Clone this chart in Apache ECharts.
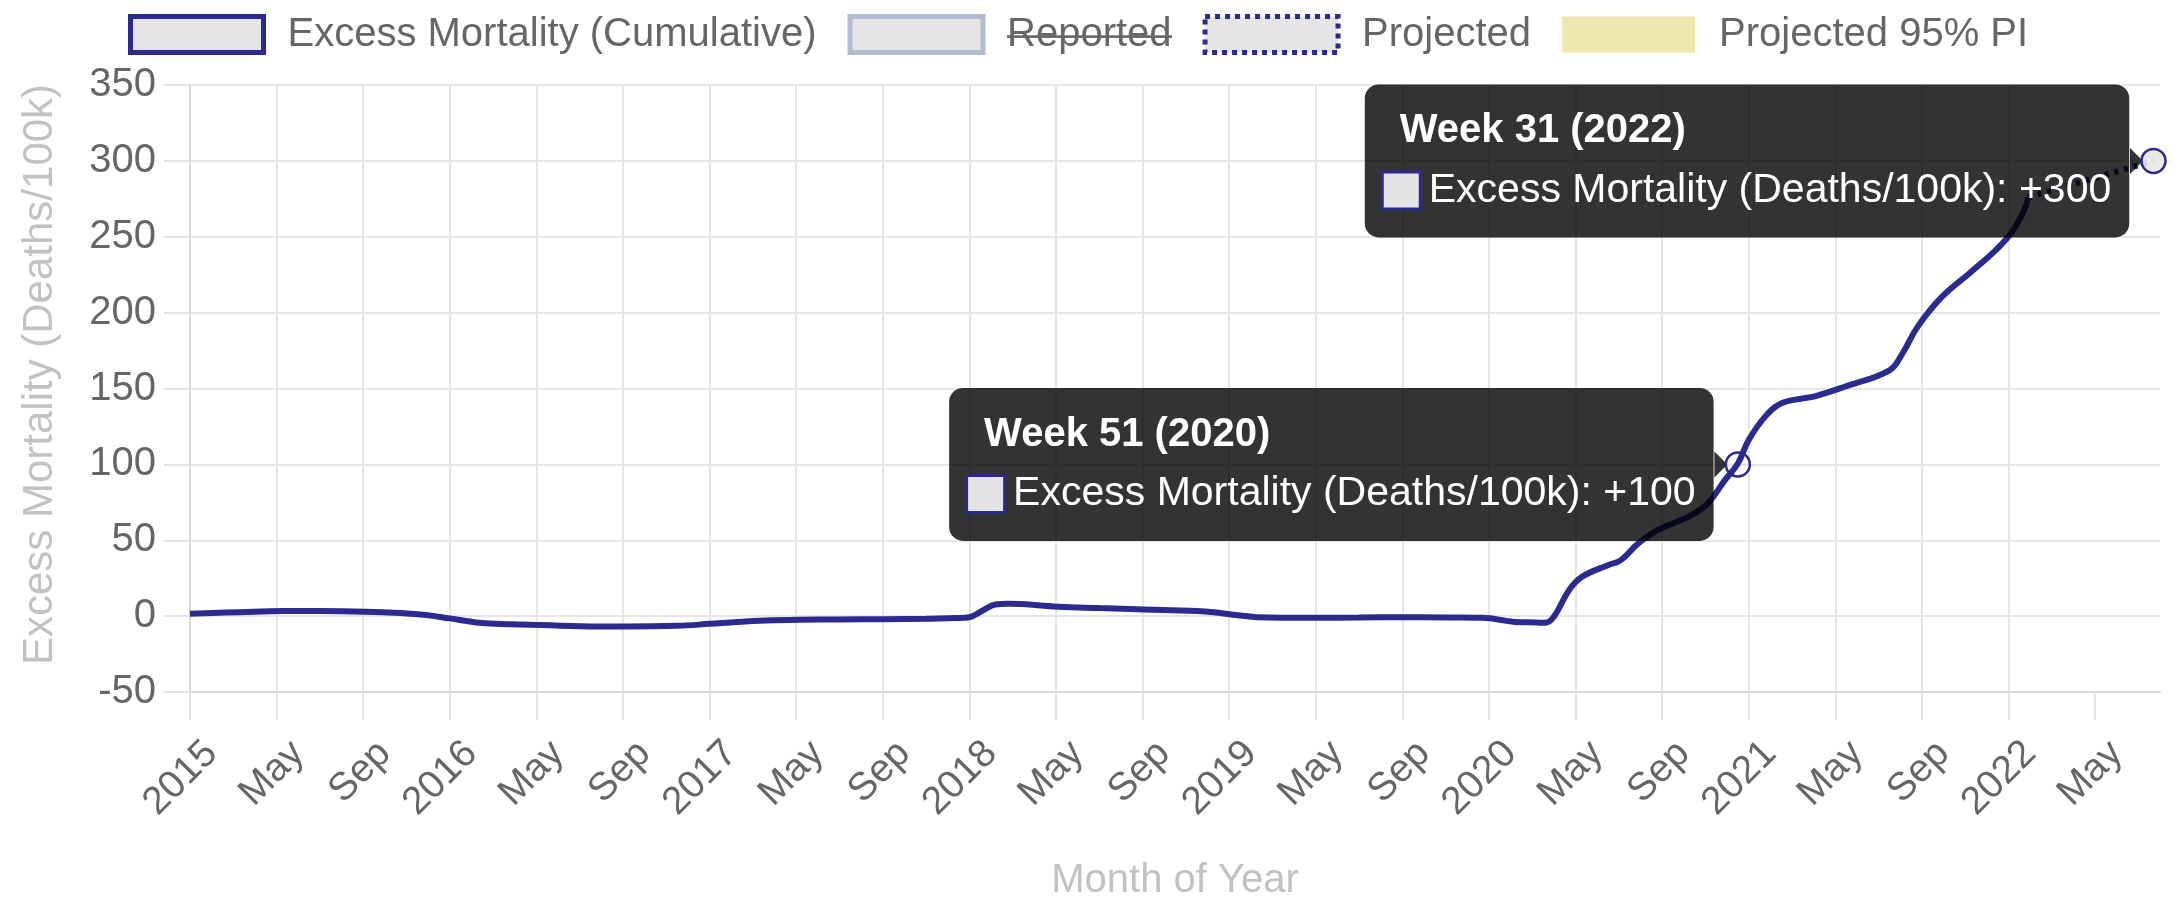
<!DOCTYPE html>
<html>
<head>
<meta charset="utf-8">
<title>Excess Mortality (Cumulative)</title>
<script src="https://cdn.jsdelivr.net/npm/echarts@6/dist/echarts.min.js"></script>
<style>
  html, body { margin: 0; padding: 0; background: #fff; }
  #chart { width: 2178px; height: 902px; }
</style>
</head>
<body>
<div id="chart"></div>
<script>
// x = months since Jan 2015, y = cumulative excess deaths per 100k
var monthsSince2015 = [0, 1, 2.3, 4.3, 6, 8.1, 9.7, 10.9, 12, 13.4, 14.8, 16.2, 18.8, 20, 22.5, 24,
  25.3, 26.6, 28.2, 30, 32.1, 34, 35.3, 36, 36.6, 37.2, 37.8, 40.1, 42, 44.1, 46.5, 47.3, 48.1,
  49.3, 51.8, 54, 55.9, 58, 59.7, 61.2, 62.2, 62.6, 63, 63.7, 64.3, 65.5, 66.1, 66.9, 67.8, 69.2,
  70.1, 70.9, 71.5, 72, 72.75, 73.5, 74.5, 75.1, 76.4, 78.5, 79.1, 79.8, 80.9, 82.2, 83.4, 84.2,
  84.8, 84.9];
var excessCumulative = [1.5, 2, 2.6, 3.3, 3.3, 2.9, 2, 0.7, -1.5, -4.4, -5.4, -5.9, -6.8, -6.8, -6.4, -5.1,
  -3.8, -2.9, -2.4, -2.2, -2, -1.7, -1.3, -0.7, 3.5, 7.7, 8.1, 6.2, 5.3, 4.4, 3.3, 2.5, 1.1,
  -0.7, -1.1, -0.9, -0.7, -0.9, -1.1, -3.8, -4.2, -4.4, -0.4, 17.1, 25.9, 33.6, 36.9, 47.9, 56.7, 65.4,
  74.2, 89.6, 100.6, 116, 131.3, 140.2, 143.5, 145, 151, 162, 173, 190.6, 210, 226, 241, 254,
  270, 276];

var projectedMonths = [84.9, 90.7];
var projectedValues = [276, 300];

var tickLabels = ['2015', 'May', 'Sep', '2016', 'May', 'Sep', '2017', 'May', 'Sep', '2018', 'May', 'Sep',
  '2019', 'May', 'Sep', '2020', 'May', 'Sep', '2021', 'May', 'Sep', '2022', 'May'];

var tipWeeks = ['Week 51 (2020)', 'Week 31 (2022)'];
var tipMonths = [71.5, 90.7];
var tipValues = [100, 300];

var NAVY = '#2b2a8e';
var FONT = '"Liberation Sans", Arial, Helvetica, sans-serif';

function pairs(xs, ys) {
  return xs.map(function (x, i) { return [x, ys[i]]; });
}

var tickValues = tickLabels.map(function (l, i) { return i * 4; });

// strike-through for the hidden "Reported" legend entry
var strikeImg = document.createElement('canvas');
strikeImg.width = 8;
strikeImg.height = 48;
var sctx = strikeImg.getContext('2d');
sctx.fillStyle = '#666';
sctx.fillRect(0, 25, 8, 3);

// static tooltips (caret + hollow circle + dark box)
var tipData = [];
tipWeeks.forEach(function (week, i) {
  var coord = [tipMonths[i], tipValues[i]];
  tipData.push({
    coord: coord,
    symbol: 'triangle',
    symbolSize: [26, 13],
    symbolRotate: -90,
    symbolOffset: [-17, 0],
    itemStyle: { color: 'rgba(0,0,0,0.8)', borderWidth: 0 },
    label: { show: false }
  });
  tipData.push({
    coord: coord,
    symbol: 'circle',
    symbolSize: 24,
    itemStyle: {
      color: i === tipWeeks.length - 1 ? 'rgba(232,232,225,0.9)' : 'rgba(255,255,255,0)',
      borderColor: NAVY,
      borderWidth: 2.5
    },
    label: {
      show: true,
      position: 'left',
      distance: 11,
      formatter: '{t|' + week + '}\n{sw|}{v|Excess Mortality (Deaths/100k): +' + tipValues[i] + '}',
      backgroundColor: 'rgba(0,0,0,0.8)',
      borderRadius: 14,
      padding: [18, 18, 17, 19],
      rich: {
        t: { align: 'left', color: '#fff', fontFamily: FONT, fontWeight: 'bold', fontSize: 40, lineHeight: 58, padding: [0, 0, 0, 16] },
        sw: { align: 'left', width: 35, height: 34, backgroundColor: '#e4e4e4', borderColor: NAVY, borderWidth: 3 },
        v: { align: 'left', color: '#fff', fontFamily: FONT, fontSize: 41, lineHeight: 60, padding: [0, 0, 0, 10] }
      }
    }
  });
});

var chart = echarts.init(document.getElementById('chart'));

chart.setOption({
  animation: false,
  textStyle: { fontFamily: FONT },
  legend: {
    left: 128,
    top: 14,
    padding: 0,
    itemWidth: 133,
    itemHeight: 36,
    itemGap: 31,
    icon: 'rect',
    selectedMode: false,
    textStyle: {
      fontFamily: FONT,
      fontSize: 40,
      color: '#666',
      rich: {
        g: { width: 19 },
        s: { fontFamily: FONT, fontSize: 40, color: '#666', backgroundColor: { image: strikeImg } }
      }
    },
    formatter: function (name) {
      return '{g| }' + (name === 'Reported' ? '{s|' + name + '}' : name);
    },
    data: [
      { name: 'Excess Mortality (Cumulative)', itemStyle: { color: '#e5e5e5', borderColor: NAVY, borderWidth: 5 } },
      { name: 'Reported', itemStyle: { color: '#e5e5e5', borderColor: '#b3bbd1', borderWidth: 5 } },
      { name: 'Projected', itemStyle: { color: '#e5e5e5', borderColor: NAVY, borderWidth: 5, borderType: 'dotted' } },
      { name: 'Projected 95% PI', itemStyle: { color: '#efe8ae', borderWidth: 0 } }
    ]
  },
  grid: { left: 190, right: 18, top: 85, bottom: 210, outerBoundsMode: 'none' },
  xAxis: {
    type: 'value',
    min: 0,
    max: 91,
    interval: 4,
    name: 'Month of Year',
    nameLocation: 'middle',
    nameGap: 169,
    nameTextStyle: { fontFamily: FONT, fontSize: 40, color: '#c2c2c2' },
    axisLine: { show: true, onZero: false, lineStyle: { color: '#d9d9d9', width: 2 } },
    axisTick: { show: true, length: 28, customValues: tickValues, lineStyle: { color: '#e3e3e3', width: 2 } },
    axisLabel: {
      rotate: 45,
      margin: 34,
      verticalAlign: 'top',
      padding: [11, 0, 0, 0],
      fontSize: 39,
      color: '#666',
      customValues: tickValues,
      formatter: function (v) { return tickLabels[Math.round(v / 4)]; }
    },
    splitLine: { show: true, showMaxLine: false, lineStyle: { color: '#e6e6e6', width: 2 } }
  },
  yAxis: {
    type: 'value',
    min: -50,
    max: 350,
    interval: 50,
    name: 'Excess Mortality (Deaths/100k)',
    nameLocation: 'middle',
    nameGap: 129,
    nameTextStyle: { fontFamily: FONT, fontSize: 42, color: '#c2c2c2', padding: [0, 0, 0, 28] },
    axisLine: { show: true, lineStyle: { color: '#d9d9d9', width: 2 } },
    axisTick: { show: true, length: 26, lineStyle: { color: '#e3e3e3', width: 2 } },
    axisLabel: { margin: 34, fontSize: 40, color: '#666' },
    splitLine: { lineStyle: { color: '#e6e6e6', width: 2 } }
  },
  series: [
    {
      name: 'Excess Mortality (Cumulative)',
      type: 'line',
      data: pairs(monthsSince2015, excessCumulative),
      smooth: 0.4,
      showSymbol: false,
      lineStyle: { color: NAVY, width: 6 },
      itemStyle: { color: NAVY },
      z: 3
    },
    { name: 'Reported', type: 'line', data: [], itemStyle: { color: '#b3bbd1' } },
    {
      name: 'Projected',
      type: 'line',
      data: pairs(projectedMonths, projectedValues),
      showSymbol: false,
      lineStyle: { color: NAVY, width: 6, type: [4, 6] },
      itemStyle: { color: NAVY },
      z: 3,
      markPoint: { silent: true, z: 10, data: tipData }
    },
    { name: 'Projected 95% PI', type: 'line', data: [], itemStyle: { color: '#efe8ae' } }
  ]
});
</script>
</body>
</html>
